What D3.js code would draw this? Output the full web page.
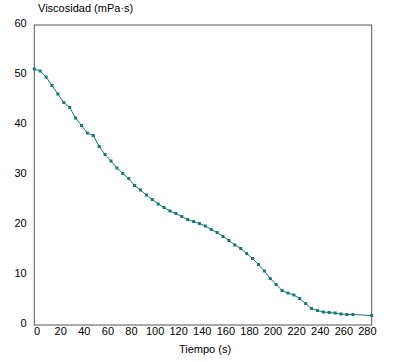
<!DOCTYPE html>
<html><head>
<meta charset="utf-8">
<script src="https://d3js.org/d3.v7.min.js"></script>
<style>
body { margin: 0; background: #fff; }
text { font-family: "Liberation Sans", Arial, sans-serif; font-size: 11px; fill: #000; }
</style>
</head><body>
<svg id="chart"></svg>
<script>
var width = 417, height = 362;
var plotLeft = 34.3, plotRight = 371.7, plotTop = 25, plotBottom = 325;

// time (s) and viscosity (mPa·s)
var tiempo = [0,5,10,15,20,25,30,35,40,45,50,55,60,65,70,75,80,85,90,95,
    100,105,110,115,120,125,130,135,140,145,150,155,160,165,170,175,180,185,190,195,
    200,205,210,215,220,225,230,235,240,245,250,255,260,265,270,286];
var viscosidad = [51.2,50.8,49.6,47.9,46.2,44.5,43.5,41.4,39.9,38.4,37.9,35.7,34.1,32.8,31.4,30.3,29.3,27.9,27.0,26.0,
    25.1,24.2,23.5,22.8,22.3,21.7,21.1,20.7,20.3,19.8,19.1,18.5,17.7,16.9,16.0,15.3,14.3,13.3,12.1,10.8,
    9.3,8.1,6.9,6.4,6.0,5.3,4.3,3.3,2.9,2.6,2.5,2.4,2.2,2.1,2.1,1.9];
var xTicks = [0,20,40,60,80,100,120,140,160,180,200,220,240,260,280];
var yTicks = [0,10,20,30,40,50,60];

var svg = d3.select("#chart").attr("width", width).attr("height", height);

var x = d3.scaleLinear().domain([0, 286]).range([plotLeft, plotRight]);
var y = d3.scaleLinear().domain([0, 60]).range([plotBottom, plotTop]);

// frame
svg.append("rect")
    .attr("x", plotLeft).attr("y", plotTop)
    .attr("width", plotRight - plotLeft).attr("height", plotBottom - plotTop)
    .attr("fill", "none").attr("stroke", "#555").attr("stroke-width", 1);

var xAxis = svg.append("g")
    .attr("transform", "translate(2.3," + plotBottom + ")")
    .call(d3.axisBottom(x).tickValues(xTicks).tickSize(0).tickPadding(2));
xAxis.select(".domain").remove();

var yAxis = svg.append("g")
    .attr("transform", "translate(" + plotLeft + ",0)")
    .call(d3.axisLeft(y).tickValues(yTicks).tickSize(0).tickPadding(7.6));
yAxis.select(".domain").remove();
yAxis.selectAll("text").attr("dy", "0.18em");

svg.selectAll("g").attr("font-size", null).attr("font-family", null);
svg.selectAll(".tick text").attr("fill", "#000");

var pts = tiempo.map(function(t, i) { return [t, viscosidad[i]]; });

svg.append("path")
    .datum(pts)
    .attr("fill", "none")
    .attr("stroke", "#157a72")
    .attr("stroke-width", 1)
    .attr("d", d3.line().x(function(d) { return x(d[0]); }).y(function(d) { return y(d[1]); }));

svg.selectAll("rect.pt")
    .data(pts)
    .enter().append("rect")
    .attr("class", "pt")
    .attr("x", function(d) { return x(d[0]) - 1.5; })
    .attr("y", function(d) { return y(d[1]) - 1.5; })
    .attr("width", 3).attr("height", 3)
    .attr("fill", "#157a72");

svg.append("text")
    .attr("x", 38).attr("y", 12)
    .text("Viscosidad (mPa\u00b7s)");

svg.append("text")
    .attr("x", 205).attr("y", 353)
    .attr("text-anchor", "middle")
    .text("Tiempo (s)");
</script>
</body></html>
